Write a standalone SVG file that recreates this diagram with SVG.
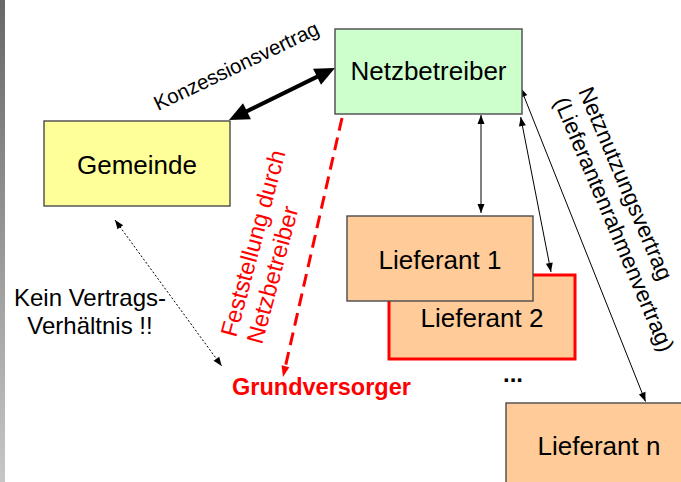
<svg xmlns="http://www.w3.org/2000/svg" width="681" height="482" viewBox="0 0 681 482">
<defs>
<linearGradient id="bar" x1="0" y1="0" x2="0" y2="1">
<stop offset="0" stop-color="#686868"/>
<stop offset="1" stop-color="#c6c6c6"/>
</linearGradient>
<marker id="ah" markerUnits="userSpaceOnUse" markerWidth="9" markerHeight="7" refX="9" refY="3.5" orient="auto-start-reverse" overflow="visible">
<path d="M0,0 L9,3.5 L0,7 z" fill="#000"/>
</marker>
<marker id="big" markerUnits="userSpaceOnUse" markerWidth="20" markerHeight="18" refX="14" refY="9" orient="auto-start-reverse" overflow="visible">
<path d="M0,0 L20,9 L0,18 z" fill="#000"/>
</marker>
<marker id="red" markerUnits="userSpaceOnUse" markerWidth="11" markerHeight="8" refX="6" refY="4" orient="auto" overflow="visible">
<path d="M0,0 L11,4 L0,8 z" fill="#ff0000"/>
</marker>
</defs>
<style>
text{font-family:"Liberation Sans",Arial,sans-serif;}
.box{stroke:#4a4a4a;stroke-width:1.4;}
.lbl{font-size:26px;fill:#000;text-anchor:middle;}
.thin{stroke:#000;stroke-width:1;fill:none;marker-start:url(#ah);marker-end:url(#ah);}
</style>
<rect x="0" y="0" width="5" height="482" fill="url(#bar)"/>
<g id="connectors">
<line x1="329.6" y1="70.6" x2="234.4" y2="117.4" stroke="#000" stroke-width="4" marker-start="url(#big)" marker-end="url(#big)"/>
<line x1="342" y1="118" x2="284.1" y2="372.1" stroke="#ff0000" stroke-width="3" stroke-dasharray="13 7" marker-end="url(#red)"/>
<line x1="115" y1="220" x2="221.7" y2="366" stroke="#000" stroke-width="1" stroke-dasharray="2 2" marker-start="url(#ah)" marker-end="url(#ah)"/>
<line x1="481" y1="115" x2="481" y2="213" class="thin"/>
<line x1="520.7" y1="117" x2="551" y2="272" class="thin"/>
<line x1="520.7" y1="88" x2="645.5" y2="401.5" class="thin"/>
</g>
<g id="gemeinde">
<rect x="44" y="121" width="186" height="85" fill="#ffff99" class="box"/>
<text x="137" y="174" class="lbl">Gemeinde</text>
</g>
<g id="netzbetreiber">
<rect x="335" y="29" width="187" height="85" fill="#ccffcc" class="box"/>
<text x="428.5" y="80" class="lbl">Netzbetreiber</text>
</g>
<g id="lieferant2">
<rect x="389" y="275" width="186" height="84" fill="#ffcc99" stroke="#ff0000" stroke-width="3"/>
<text x="482" y="327" class="lbl">Lieferant 2</text>
</g>
<g id="lieferant1">
<rect x="347" y="216" width="186" height="85" fill="#ffcc99" class="box"/>
<text x="440" y="269" class="lbl">Lieferant 1</text>
</g>
<g id="lieferantn">
<rect x="506" y="403" width="186" height="86" fill="#ffcc99" class="box"/>
<text x="599" y="455" class="lbl">Lieferant n</text>
</g>
<g id="labels">
<text transform="translate(158,111) rotate(-25.5)" font-size="20.5">Konzessionsvertrag</text>
<text transform="translate(236,338) rotate(-75)" font-size="23.5" fill="#ff0000"><tspan x="0" y="0">Feststellung durch</tspan><tspan x="0" y="27">Netzbetreiber</tspan></text>
<text transform="translate(578,91) rotate(67)" font-size="22.5" fill="#000"><tspan x="0" y="0">Netznutzungsvertrag</tspan><tspan x="0" y="26.5">(Lieferantenrahmenvertrag)</tspan></text>
<text x="90" y="306" font-size="24" text-anchor="middle">Kein Vertrags-</text>
<text x="90" y="334" font-size="24" text-anchor="middle">Verhältnis !!</text>
<text x="232" y="395" font-size="23.5" font-weight="bold" fill="#ff0000">Grundversorger</text>
<text x="503" y="382" font-size="24" font-weight="bold">...</text>
</g>
</svg>
